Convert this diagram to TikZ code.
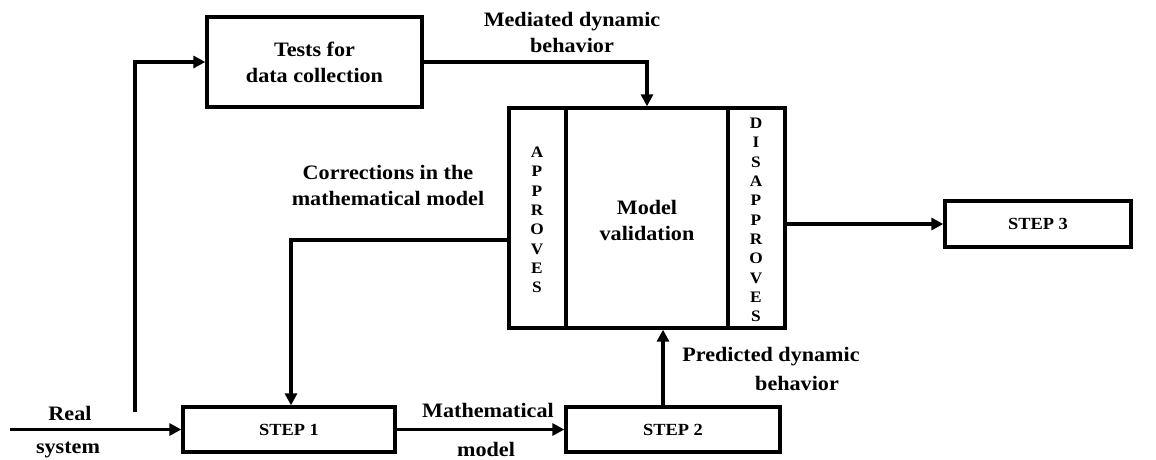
\documentclass[tikz,border=0pt]{standalone}
\usepackage{fontspec}
\setmainfont{Liberation Serif}[FakeStretch=1.08]
\usetikzlibrary{arrows.meta}
\begin{document}
\begin{tikzpicture}[x=1pt,y=-1pt,
  line width=3.3pt,
  box/.style={draw,line width=3.3pt,inner sep=0pt,align=center},
  arr/.style={-{Triangle[length=12pt,width=12pt]},line width=3.3pt},
  lbl/.style={font=\fontsize{20.5}{26}\selectfont\bfseries,align=center,inner sep=0pt},
  steptxt/.style={font=\fontsize{17}{20}\selectfont\bfseries},
  letters/.style={font=\fontsize{16}{19.3}\selectfont\bfseries,align=center,inner sep=0pt}]
\useasboundingbox (0,0) rectangle (1156,459);
% boxes
\node[box,minimum width=215pt,minimum height=90pt,font=\fontsize{20.5}{26}\selectfont\bfseries] (tests) at (314.5,62) {Tests for\\data collection};
\node[box,minimum width=276pt,minimum height=220pt] (model) at (647,218) {};
\draw[line width=3.3pt] (566,108) -- (566,328);
\draw[line width=3.3pt] (728,108) -- (728,328);
\node[lbl] (mv) at (647,220) {Model\\validation};
\node[letters] (appr) at (537,220) {A\\P\\P\\R\\O\\V\\E\\S};
\node[letters] (disappr) at (756,220) {D\\I\\S\\A\\P\\P\\R\\O\\V\\E\\S};
\node[box,minimum width=212pt,minimum height=45pt,steptxt] (step1) at (289,429.5) {STEP 1};
\node[box,minimum width=214pt,minimum height=45pt,steptxt] (step2) at (673,429.5) {STEP 2};
\node[box,minimum width=186pt,minimum height=46pt,steptxt] (step3) at (1038,224) {STEP 3};
% coordinates
\coordinate (start) at (10,429.5);
\coordinate (branch) at (135,412);
% connectors
\draw[arr] (start) -- (step1.west);
\draw[arr] (branch) |- (tests.west);
\draw[arr] (tests.east) -| (model.north);
\draw[arr] ([yshift=-22pt]model.west) -| ([xshift=2pt]step1.north);
\draw[arr] (step1.east) -- (step2.west);
\draw[arr] ([xshift=-10pt]step2.north) -- ([xshift=-10pt]step2.north |- model.south);
\draw[arr] (model.east |- step3.west) -- (step3.west);
% labels
\node[lbl] (real) at (70,413) {Real};
\node[lbl] (system) at (68,450) {system};
\node[lbl] (math) at (488,410) {Mathematical};
\node[lbl] (mmodel) at (486,449) {model};
\node[lbl] (pred1) at (771,357) {Predicted dynamic};
\node[lbl] (pred2) at (797,383) {behavior};
\node[lbl] (corr) at (388,185) {Corrections in the\\mathematical model};
\node[lbl] (med) at (572,32) {Mediated dynamic\\behavior};
\end{tikzpicture}
\end{document}
